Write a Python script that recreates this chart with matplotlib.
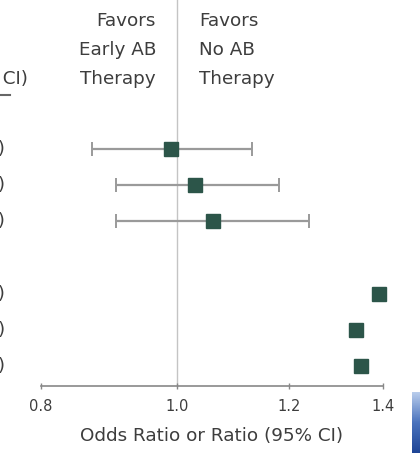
import numpy as np
import matplotlib
matplotlib.use("Agg")
import matplotlib.pyplot as plt
from matplotlib.colors import LinearSegmentedColormap

# ---- data ----
rows = [0, 1, 2, 4, 5, 6]
estimates = [0.99, 1.03, 1.06, 1.39, 1.34, 1.35]
ci_low = [0.87, 0.905, 0.905, 1.38, 1.33, 1.34]
ci_high = [1.13, 1.18, 1.24, 1.40, 1.35, 1.36]
xticks = [0.8, 1.0, 1.2, 1.4]
xtick_labels = ["0.8", "1.0", "1.2", "1.4"]
left_header = ["Favors", "Early AB", "Therapy"]
right_header = ["Favors", "No AB", "Therapy"]
col_header = "OR or Ratio (95% CI)"
xlabel = "Odds Ratio or Ratio (95% CI)"

W, H = 420, 453
FONT = "DejaVu Sans"
TXT = "#3d3d3d"
MARK = "#2c5549"
LINE = "#9a9a9a"
FS = 13.2

fig = plt.figure(figsize=(W / 100, H / 100), dpi=100)
fig.patch.set_facecolor("white")

def fx(px):
    return px / W

def fy(py):
    return 1 - py / H

ax_left, ax_right, ax_top, ax_bot = 41, 383, 0, 386
ax = fig.add_axes([fx(ax_left), fy(ax_bot), fx(ax_right - ax_left), (ax_bot - ax_top) / H])
ax.set_xscale("log")
ax.set_xlim(0.8, 1.4)
ax.set_ylim(6.55, -4.12)
ax.patch.set_alpha(0)
for s in ["top", "right", "left"]:
    ax.spines[s].set_visible(False)
ax.spines["bottom"].set_color("#888888")
ax.spines["bottom"].set_linewidth(1.2)
ax.set_yticks([])
ax.minorticks_off()
ax.set_xticks(xticks)
ax.set_xticklabels(xtick_labels)
ax.tick_params(axis="x", direction="inout", length=5, width=1, color="#888888",
               labelsize=10.5, labelcolor=TXT, pad=7)
for lab in ax.get_xticklabels():
    lab.set_fontfamily(FONT)
ax.set_xlabel(xlabel, fontsize=FS, color=TXT, family=FONT, labelpad=9)

# reference line
ax.axvline(1.0, color="#c4c4c4", lw=1.0, zorder=1, clip_on=False)

# CIs and markers
for r, e, lo, hi in zip(rows, estimates, ci_low, ci_high):
    ax.errorbar([e], [r], xerr=[[e - lo], [hi - e]], fmt="none", ecolor=LINE,
                elinewidth=1.6, capsize=5, capthick=1.4, zorder=2, clip_on=False)
ax.plot(estimates, rows, "s", color=MARK, markersize=10.5, zorder=3, clip_on=False)

# header texts
for i, (lt, rt) in enumerate(zip(left_header, right_header)):
    y = fy(21 + 29 * i)
    fig.text(fx(156), y, lt, ha="right", va="center", fontsize=FS, color=TXT, family=FONT)
    fig.text(fx(199), y, rt, ha="left", va="center", fontsize=FS, color=TXT, family=FONT)

# cut-off left column
fig.text(fx(28), fy(79), col_header, ha="right", va="center", fontsize=FS, color=TXT, family=FONT)
fig.add_artist(plt.Line2D([0, fx(10)], [fy(95), fy(95)], color="#666666", lw=1.5))
for r, e, lo, hi in zip(rows, estimates, ci_low, ci_high):
    y_disp = ax.transData.transform((1.0, r))[1]
    y_fig = fig.transFigure.inverted().transform((0, y_disp))[1]
    fig.text(fx(5), y_fig, f"{e:.2f} ({lo:.2f}-{hi:.2f})", ha="right", va="center",
             fontsize=FS, color=TXT, family=FONT)

# blue artifact in corner
bax = fig.add_axes([fx(412), 0, fx(8), (H - 392) / H])
grad = np.linspace(0, 1, 100).reshape(-1, 1)
cmap = LinearSegmentedColormap.from_list("b", ["#b9cdec", "#4a73bd", "#1f4596"])
bax.imshow(grad, aspect="auto", cmap=cmap)
bax.axis("off")

fig.savefig("out.png", dpi=100, facecolor="white")
